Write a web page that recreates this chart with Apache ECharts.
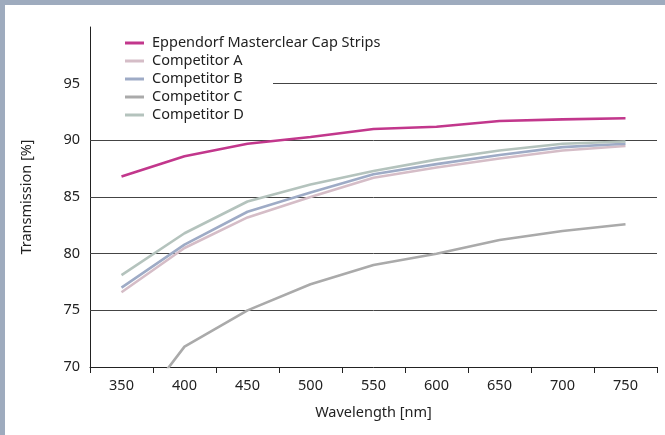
<!DOCTYPE html>
<html>
<head>
<meta charset="utf-8">
<script src="https://cdn.jsdelivr.net/npm/echarts@6/dist/echarts.min.js"></script>
<style>
  html, body { margin: 0; padding: 0; background: #9eabbe; width: 665px; height: 435px; overflow: hidden; }
  #c { position: absolute; left: 5px; top: 5px; width: 660px; height: 430px; background: #fff; }
</style>
</head>
<body>
<div id="c"></div>
<script>
// ---- data ----
const categories = ['350', '400', '450', '500', '550', '600', '650', '700', '750'];
const eppendorf = [86.8, 88.6, 89.7, 90.3, 91.0, 91.2, 91.7, 91.85, 91.95];
const competitorA = [76.6, 80.5, 83.2, 85.0, 86.7, 87.6, 88.4, 89.1, 89.5];
const competitorB = [77.0, 80.8, 83.7, 85.4, 87.0, 87.9, 88.7, 89.4, 89.7];
const competitorC = [64.5, 71.8, 75.0, 77.3, 79.0, 80.0, 81.2, 82.0, 82.6];
const competitorD = [78.1, 81.8, 84.6, 86.1, 87.3, 88.3, 89.1, 89.7, 89.9];
const seriesNames = ['Eppendorf Masterclear Cap Strips', 'Competitor A', 'Competitor B', 'Competitor C', 'Competitor D'];
const gridValues = [75, 80, 85, 90];
const partialGridValue = 95;

const FONT = '"Noto Sans", "Open Sans", sans-serif';
const FS = 14.5;
const colors = ['#c2378c', '#d5bdc7', '#9eabc6', '#aaaaaa', '#b4c3bd'];
const dataSets = [eppendorf, competitorA, competitorB, competitorC, competitorD];

const chart = echarts.init(document.getElementById('c'), null, { renderer: 'canvas' });

const series = dataSets.map((d, i) => ({
  name: seriesNames[i],
  type: 'line',
  data: d,
  symbol: 'none',
  clip: true,
  z: 3,
  lineStyle: { color: colors[i], width: 2.6 },
  itemStyle: { color: colors[i] }
}));

series[0].markLine = {
  silent: true,
  symbol: ['none', 'none'],
  z: 1,
  animation: false,
  label: { show: false },
  lineStyle: { color: '#444', width: 1, type: 'solid' },
  emphasis: { disabled: true },
  data: gridValues.map(v => ({ yAxis: v })).concat([
    [{ x: 268, yAxis: partialGridValue }, { x: 652, yAxis: partialGridValue }]
  ])
};

chart.setOption({
  animation: false,
  textStyle: { fontFamily: FONT },
  grid: { left: 85, right: 8, top: 22, bottom: 68, containLabel: false },
  legend: {
    data: seriesNames,
    orient: 'vertical',
    left: 120,
    top: 29,
    padding: 0,
    icon: 'rect',
    itemWidth: 19,
    itemHeight: 3,
    itemGap: 0,
    selectedMode: false,
    textStyle: { fontFamily: FONT, fontSize: FS, color: '#222', lineHeight: 18, padding: [0, 0, 0, 3] }
  },
  xAxis: {
    type: 'category',
    data: categories,
    boundaryGap: true,
    name: 'Wavelength [nm]',
    nameLocation: 'middle',
    nameGap: 38,
    nameTextStyle: { fontFamily: FONT, fontSize: FS, color: '#222' },
    axisLine: { show: true, lineStyle: { color: '#222', width: 1 } },
    axisTick: { show: true, length: 6, alignWithLabel: false, lineStyle: { color: '#222' } },
    axisLabel: { fontFamily: FONT, fontSize: FS, color: '#222', margin: 11 },
    splitLine: { show: false }
  },
  yAxis: {
    type: 'value',
    min: 70,
    max: 100,
    interval: 5,
    name: 'Transmission [%]',
    nameLocation: 'middle',
    nameGap: 56,
    nameTextStyle: { fontFamily: FONT, fontSize: FS, color: '#222' },
    axisLine: { show: true, lineStyle: { color: '#222', width: 1 } },
    axisTick: { show: false },
    axisLabel: {
      fontFamily: FONT, fontSize: FS, color: '#222', margin: 10,
      formatter: v => (v >= 100 ? '' : String(v))
    },
    splitLine: { show: false }
  },
  series: series
});
</script>
</body>
</html>
